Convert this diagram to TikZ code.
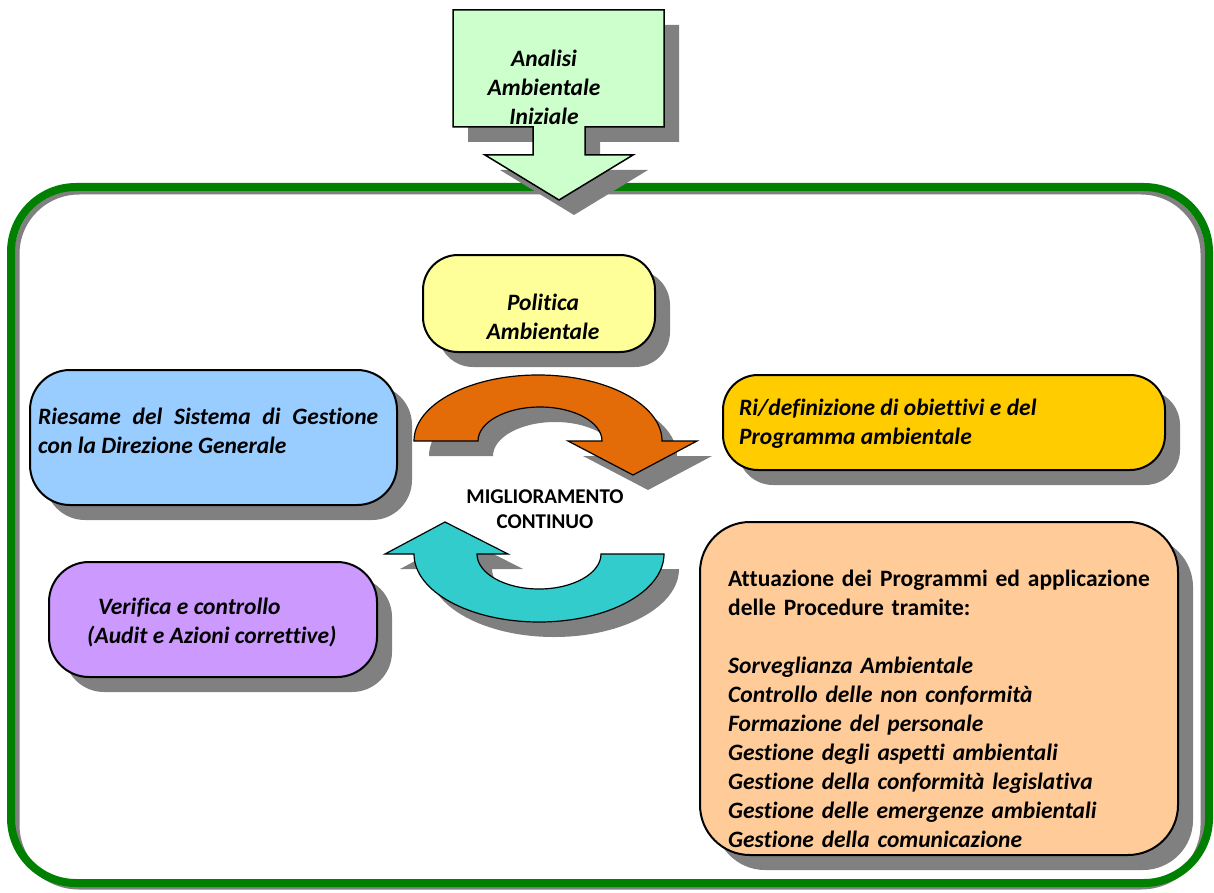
\documentclass[tikz,border=0pt]{standalone}
\usepackage{fontspec}
\setmainfont[Ligatures=NoCommon]{Carlito}
\usetikzlibrary{shadows}
\definecolor{shadowgray}{HTML}{808080}
\definecolor{framegreen}{HTML}{008000}
\definecolor{analisigreen}{HTML}{CCFFCC}
\definecolor{politicayellow}{HTML}{FFFF99}
\definecolor{riesameblue}{HTML}{99CCFF}
\definecolor{programmagold}{HTML}{FFCC00}
\definecolor{verificaviolet}{HTML}{CC99FF}
\definecolor{attuazionepeach}{HTML}{FFCC99}
\definecolor{cycleorange}{HTML}{E36C09}
\definecolor{cyclecyan}{HTML}{33CCCC}
\tikzset{
  castshadow/.style={drop shadow={shadow xshift=15pt,shadow yshift=-15pt,fill=shadowgray,opacity=1}},
  box/.style={draw,line width=2pt,rounded corners=35pt,castshadow},
  boxtext/.style={inner sep=0pt,font=\fontsize{23.5}{29}\selectfont\bfseries\itshape},
  cyclearrow/.style={draw,line width=1.2pt,castshadow},
}

\begin{document}
\begin{tikzpicture}[x=1pt,y=1pt]
  \useasboundingbox (0,0) rectangle (1214,-893);

  % frame
  \draw[shadowgray,line width=5pt,rounded corners=62pt] (17,-192) rectangle (1203,-887);
  \draw[framegreen,line width=8pt,rounded corners=65pt] (11,-187) rectangle (1209,-883);

  % Analisi ambientale iniziale
  \draw[fill=analisigreen,line width=1.5pt,castshadow]
    (453,-10) -- (664,-10) -- (664,-127) -- (585,-127) -- (585,-155)
    -- (633,-155) -- (559,-200) -- (485,-155) -- (533,-155) -- (533,-127)
    -- (453,-127) -- cycle;
  \node[boxtext,align=center] (analisi) at (544,-87) {Analisi\\Ambientale\\Iniziale};

  % boxes
  \node[box,fill=politicayellow,minimum width=232pt,minimum height=97pt]
    (politica) at (539,-303.5) {};
  \node[box,fill=riesameblue,minimum width=367pt,minimum height=135pt,rounded corners=40pt]
    (riesame) at (213.5,-437.5) {};
  \node[box,fill=programmagold,minimum width=442pt,minimum height=95pt]
    (programma) at (944,-422.5) {};
  \node[box,fill=verificaviolet,minimum width=328pt,minimum height=115pt,rounded corners=40pt]
    (verifica) at (213,-619.5) {};
  \node[box,fill=attuazionepeach,minimum width=478pt,minimum height=333pt,rounded corners=50pt]
    (attuazione) at (939,-688.5) {};

  % texts
  \node[boxtext,align=center] (politicatxt) at (543,-317) {Politica\\Ambientale};
  \node[boxtext,align=justify,text width=340pt,anchor=west]
    (riesametxt) at (38,-431) {Riesame del Sistema di Gestione\linebreak con la Direzione Generale};
  \node[boxtext,align=left,anchor=west]
    (programmatxt) at (739,-424) {Ri/definizione di obiettivi e del\\Programma ambientale};
  \node[boxtext,align=left,anchor=west]
    (verificatxt) at (87,-623) {\hspace*{11pt}Verifica e controllo\\(Audit e Azioni correttive)};
  \node[boxtext,align=left,text width=442pt,anchor=west] (attuazionetxt) at (728,-709)
    {\upshape\makebox[440pt][s]{Attuazione dei Programmi ed applicazione}\\
     delle Procedure tramite:\\[29pt]
     \itshape Sorveglianza Ambientale\\
     Controllo delle non conformità\\
     Formazione del personale\\
     Gestione degli aspetti ambientali\\
     Gestione della conformità legislativa\\
     Gestione delle emergenze ambientali\\
     Gestione della comunicazione};

  % ciclo
  \draw[cyclearrow,fill=cycleorange]
    (414,-441) arc[start angle=180,end angle=0,x radius=124,y radius=66]
    -- (697,-441) -- (633,-475) -- (568,-441) -- (602,-441)
    arc[start angle=0,end angle=180,x radius=62,y radius=34] -- cycle;
  \draw[cyclearrow,fill=cyclecyan]
    (664,-554) arc[start angle=0,end angle=-180,x radius=125,y radius=68]
    -- (385,-554) -- (445,-522) -- (508,-554) -- (477,-554)
    arc[start angle=180,end angle=360,x radius=62,y radius=35] -- cycle;
  \node[inner sep=0pt,align=center,font=\fontsize{21}{25}\selectfont\bfseries]
    (miglioramento) at (545,-509) {MIGLIORAMENTO\\CONTINUO};
\end{tikzpicture}
\end{document}
